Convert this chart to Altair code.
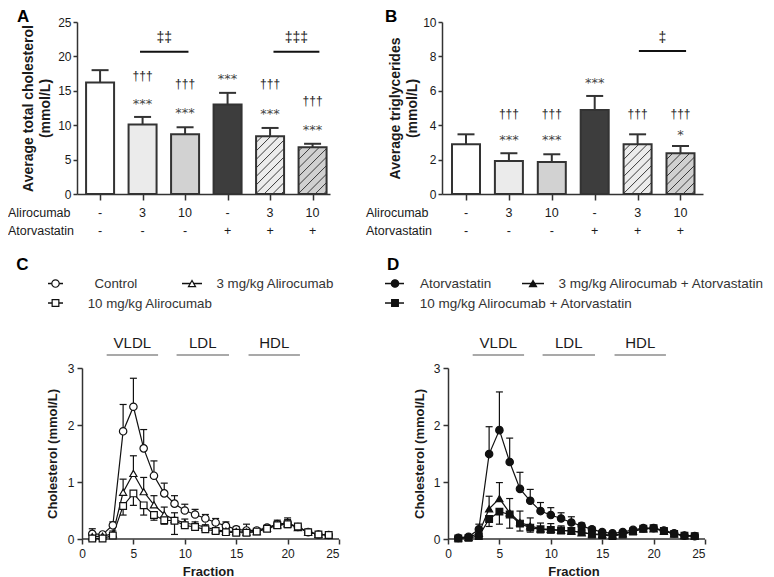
import altair as alt
import pandas as pd

# ---------------- data ----------------
groups = [1, 2, 3, 4, 5, 6]
alirocumab_dose = ["-", "3", "10", "-", "3", "10"]
atorvastatin_use = ["-", "-", "-", "+", "+", "+"]

tc_mean = [16.2, 10.1, 8.7, 13.0, 8.4, 6.8]
tc_sem = [1.8, 1.1, 1.0, 1.7, 1.2, 0.5]
tg_mean = [2.89, 1.92, 1.86, 4.88, 2.89, 2.37]
tg_sem = [0.58, 0.45, 0.45, 0.82, 0.58, 0.42]

tc_dagger = ["", "†††", "†††", "", "†††", "†††"]
tc_star = ["", "***", "***", "***", "***", "***"]
tg_dagger = ["", "†††", "†††", "", "†††", "†††"]
tg_star = ["", "***", "***", "***", "", "*"]

fractions = list(range(1, 25))
c_control = [0.09, 0.08, 0.24, 1.89, 2.32, 1.59, 1.11, 0.80, 0.62, 0.50, 0.43, 0.36,
             0.29, 0.23, 0.17, 0.15, 0.15, 0.20, 0.26, 0.28, 0.21, 0.12, 0.08, 0.07]
c_control_err = [0.09, 0.03, 0.06, 0.47, 0.50, 0.33, 0.26, 0.18, 0.14, 0.11, 0.09, 0.07,
                 0.07, 0.07, 0.05, 0.11, 0.03, 0.03, 0.07, 0.09, 0.04, 0.02, 0.02, 0.02]
c_ali3 = [0.04, 0.05, 0.09, 0.82, 1.15, 0.83, 0.60, 0.43, 0.34, 0.28, 0.25, 0.21,
          0.16, 0.14, 0.13, 0.12, 0.13, 0.19, 0.25, 0.27, 0.20, 0.12, 0.08, 0.07]
c_ali3_err = [0.03, 0.02, 0.05, 0.23, 0.31, 0.25, 0.16, 0.13, 0.12, 0.07, 0.05, 0.04,
              0.04, 0.04, 0.03, 0.03, 0.03, 0.04, 0.06, 0.07, 0.04, 0.02, 0.02, 0.02]
c_ali10 = [0.01, 0.01, 0.06, 0.58, 0.80, 0.59, 0.42, 0.33, 0.32, 0.24, 0.21, 0.17,
           0.14, 0.12, 0.11, 0.11, 0.13, 0.18, 0.24, 0.26, 0.22, 0.12, 0.08, 0.07]
c_ali10_err = [0.01, 0.01, 0.03, 0.16, 0.21, 0.17, 0.09, 0.07, 0.24, 0.05, 0.04, 0.03,
               0.03, 0.03, 0.03, 0.03, 0.03, 0.03, 0.05, 0.06, 0.04, 0.02, 0.02, 0.02]

d_ator = [0.02, 0.04, 0.17, 1.49, 1.91, 1.35, 0.88, 0.67, 0.49, 0.42, 0.36, 0.29,
          0.23, 0.17, 0.12, 0.10, 0.12, 0.16, 0.19, 0.19, 0.15, 0.10, 0.06, 0.05]
d_ator_err = [0.02, 0.02, 0.09, 0.48, 0.67, 0.42, 0.29, 0.20, 0.15, 0.13, 0.10, 0.10,
              0.05, 0.04, 0.03, 0.03, 0.03, 0.03, 0.04, 0.04, 0.03, 0.02, 0.02, 0.02]
d_ali3 = [0.02, 0.03, 0.10, 0.53, 0.71, 0.46, 0.29, 0.23, 0.18, 0.17, 0.15, 0.14,
          0.11, 0.09, 0.08, 0.07, 0.09, 0.14, 0.18, 0.18, 0.14, 0.09, 0.06, 0.05]
d_ali3_err = [0.01, 0.01, 0.08, 0.22, 0.28, 0.25, 0.20, 0.14, 0.10, 0.10, 0.08, 0.06,
              0.04, 0.03, 0.03, 0.03, 0.03, 0.03, 0.04, 0.04, 0.03, 0.02, 0.02, 0.02]
d_ali10 = [0.01, 0.02, 0.05, 0.35, 0.48, 0.43, 0.27, 0.20, 0.17, 0.16, 0.15, 0.14,
           0.12, 0.08, 0.07, 0.05, 0.08, 0.13, 0.18, 0.19, 0.14, 0.09, 0.06, 0.05]
d_ali10_err = [0.01, 0.01, 0.03, 0.13, 0.22, 0.24, 0.13, 0.08, 0.06, 0.05, 0.04, 0.03,
               0.03, 0.03, 0.02, 0.02, 0.03, 0.03, 0.04, 0.04, 0.03, 0.02, 0.02, 0.02]

lipo_names = ["VLDL", "LDL", "HDL"]
lipo_start = [2.4, 9.2, 16.2]
lipo_end = [7.4, 14.3, 21.2]

# ---------------- style / layout ----------------
FONT = "Liberation Sans"
SYM = "DejaVu Sans"
INK = "#333333"
TXT = "#1a1a1a"
bar_fill = ["#ffffff", "#ebebeb", "#d2d2d2", "#3d3d3d", "#ececec", "#d0d0d0"]
hatched = [False, False, False, False, True, True]
BAR_PX = 28
CAP_PX = 8.5
H_TOP = 172
H_BOT = 171


def ax(**kw):
    base = dict(grid=False, domainColor=INK, tickColor=INK, domainWidth=1.5, tickWidth=1.5,
                labelFont=FONT, labelFontSize=12, labelColor=TXT, titleFont=FONT,
                titleColor=TXT)
    base.update(kw)
    return alt.Axis(**base)


def text_layer(df, X, Y, **mk):
    base = dict(font=FONT, color=TXT)
    base.update(mk)
    return alt.Chart(df).mark_text(**base).encode(X, Y, text="t:N")


def bar_panel(mean, sem, xdom, width, ydom, yticks, ytitle, title_x, letter, letter_px,
              row_px, dagger, dagger_y, star, star_y, sigs):
    ppx = width / (xdom[1] - xdom[0])
    ppy = H_TOP / (ydom[1] - ydom[0])
    X = alt.X("x:Q", scale=alt.Scale(domain=xdom, nice=False, zero=False, padding=0),
              axis=ax(values=groups, labels=False, title=None, tickSize=6))
    Y = alt.Y("y:Q", scale=alt.Scale(domain=ydom, nice=False, zero=False, padding=0),
              axis=ax(values=yticks, title=ytitle, tickSize=4, labelPadding=2,
                      titleAngle=-90, titleX=title_x, titleY=H_TOP / 2, titleAlign="center",
                      titleBaseline="middle", titleFontSize=14, titleFontWeight="bold",
                      titleLineHeight=17))
    bars = pd.DataFrame({"x": groups, "y": mean, "fill": bar_fill})
    fill_layer = alt.Chart(bars).mark_bar(size=BAR_PX, orient="vertical").encode(
        X, Y, fill=alt.Fill("fill:N", scale=None))
    segs = []
    step = 8.5
    for g, m, h in zip(groups, mean, hatched):
        if not h:
            continue
        W = BAR_PX
        H = m * ppy
        left = g - W / 2 / ppx
        k = -W + 3.0
        while k < H:
            x0 = max(0.0, -k)
            x1 = min(W, H - k)
            if x1 > x0:
                segs.append({"x": left + x0 / ppx, "y": (x0 + k) / ppy,
                             "x2": left + x1 / ppx, "y2": (x1 + k) / ppy})
            k += step
    hatch = alt.Chart(pd.DataFrame(segs)).mark_rule(stroke="#3a3a3a", strokeWidth=1).encode(
        X, Y, x2="x2:Q", y2="y2:Q")
    outline = alt.Chart(bars).mark_bar(size=BAR_PX, orient="vertical", fillOpacity=0,
                                       stroke=INK, strokeWidth=2).encode(X, Y)
    errs = pd.DataFrame({"x": groups, "y": mean, "y2": [m + s for m, s in zip(mean, sem)]})
    err_line = alt.Chart(errs).mark_rule(stroke=INK, strokeWidth=2).encode(X, Y, y2="y2:Q")
    caps = pd.DataFrame({"x": [g - CAP_PX / ppx for g in groups],
                         "x2": [g + CAP_PX / ppx for g in groups],
                         "y": [m + s for m, s in zip(mean, sem)]})
    cap_line = alt.Chart(caps).mark_rule(stroke=INK, strokeWidth=2).encode(X, Y, x2="x2:Q")

    dag = pd.DataFrame([{"x": g, "y": yy, "t": t} for g, t, yy in zip(groups, dagger, dagger_y) if t])
    sta = pd.DataFrame([{"x": g, "y": yy, "t": t} for g, t, yy in zip(groups, star, star_y) if t])
    dag_l = text_layer(dag, X, Y, font=FONT, fontSize=12, baseline="middle", align="center")
    sta_l = text_layer(sta, X, Y, font=SYM, fontSize=13, baseline="middle", align="center",
                       color="#444444")
    sig_lines = pd.DataFrame([{"x": s[0], "x2": s[1], "y": s[2]} for s in sigs])
    sig_l = alt.Chart(sig_lines).mark_rule(stroke="#111111", strokeWidth=2).encode(X, Y, x2="x2:Q")
    sig_t = pd.DataFrame([{"x": (s[0] + s[1]) / 2, "y": s[3], "t": s[4]} for s in sigs])
    sig_tl = text_layer(sig_t, X, Y, fontSize=14, baseline="middle", align="center")

    lx = xdom[0] + letter_px / ppx
    let = text_layer(pd.DataFrame({"x": [lx], "y": [ydom[1]], "t": [letter]}), X, Y,
                     fontSize=17, fontWeight="bold", align="left", baseline="alphabetic",
                     color="#000000")
    rx = xdom[0] + row_px / ppx
    r1 = -19.4 / ppy
    r2 = -37.0 / ppy
    rows_names = pd.DataFrame({"x": [rx, rx], "y": [r1, r2], "t": ["Alirocumab", "Atorvastatin"]})
    names_l = text_layer(rows_names, X, Y, fontSize=12.5, align="left", baseline="middle")
    vals = pd.DataFrame({"x": groups + groups, "y": [r1] * 6 + [r2] * 6,
                         "t": alirocumab_dose + atorvastatin_use})
    vals_l = text_layer(vals, X, Y, fontSize=12.5, align="center", baseline="middle")

    return alt.layer(fill_layer, hatch, outline, err_line, cap_line, dag_l, sta_l, sig_l,
                     sig_tl, let, names_l, vals_l).properties(width=width, height=H_TOP)


def profile_panel(series, xdom, width, yaxis_offset, title_x, letter, letter_x, legend, leg_fs):
    ppx = width / (xdom[1] - xdom[0])
    X = alt.X("x:Q", scale=alt.Scale(domain=xdom, nice=False, zero=False, padding=0),
              axis=ax(values=[0, 5, 10, 15, 20, 25], domain=False, tickSize=5, labelPadding=4,
                      title="Fraction", titleFontSize=13, titleFontWeight="bold",
                      titleBaseline="alphabetic", titleY=36))
    Y = alt.Y("y:Q", scale=alt.Scale(domain=[0, 3], nice=False, zero=False, padding=0),
              axis=ax(values=[0, 1, 2, 3], offset=-yaxis_offset, tickSize=5, labelPadding=3,
                      title="Cholesterol (mmol/L)", titleAngle=-90, titleX=title_x,
                      titleY=H_BOT / 2, titleAlign="center", titleBaseline="middle",
                      titleFontSize=13, titleFontWeight="bold"))
    base_rule = alt.Chart(pd.DataFrame({"x": [0], "x2": [25], "y": [0]})).mark_rule(
        stroke=INK, strokeWidth=1.5).encode(X, Y, x2="x2:Q")

    lipo = pd.DataFrame({"x": lipo_start, "x2": lipo_end, "y": [3.228] * 3})
    lipo_l = alt.Chart(lipo).mark_rule(stroke="#555555", strokeWidth=1.2).encode(X, Y, x2="x2:Q")
    lipo_t = pd.DataFrame({"x": [(a + b) / 2 for a, b in zip(lipo_start, lipo_end)],
                           "y": [3.346] * 3, "t": lipo_names})
    lipo_tl = text_layer(lipo_t, X, Y, fontSize=15, align="center", baseline="alphabetic")

    err_rows, cap_rows, line_rows = [], [], []
    capw = 3.5 / ppx
    for s in series:
        for f, v, e in zip(fractions, s["values"], s["err"]):
            end = v + s["dir"] * e
            err_rows.append({"x": f, "y": v, "y2": end})
            cap_rows.append({"x": f - capw, "x2": f + capw, "y": end})
            line_rows.append({"x": f, "y": v, "series": s["name"]})
    err_l = alt.Chart(pd.DataFrame(err_rows)).mark_rule(stroke="#111111", strokeWidth=1.2).encode(
        X, Y, y2="y2:Q")
    cap_l = alt.Chart(pd.DataFrame(cap_rows)).mark_rule(stroke="#111111", strokeWidth=1.2).encode(
        X, Y, x2="x2:Q")
    line_l = alt.Chart(pd.DataFrame(line_rows)).mark_line(stroke="#111111", strokeWidth=1.2).encode(
        X, Y, detail="series:N")
    layers = [base_rule, lipo_l, lipo_tl, err_l, cap_l, line_l]
    for s in series:
        pts = pd.DataFrame({"x": fractions, "y": s["values"]})
        layers.append(alt.Chart(pts).mark_point(
            shape=s["shape"], filled=True, fill=s["fill"], stroke="#111111", strokeWidth=1.2,
            size=s["size"], opacity=1).encode(X, Y))
    leg_rule_rows, leg_text_rows = [], []
    for (s, e) in zip(series, legend):
        leg_rule_rows.append({"x": e["line"][0], "x2": e["line"][1], "y": e["ym"]})
        leg_text_rows.append({"x": e["tx"], "y": e["yt"], "t": s["name"]})
    layers.append(alt.Chart(pd.DataFrame(leg_rule_rows)).mark_rule(
        stroke="#111111", strokeWidth=1.5).encode(X, Y, x2="x2:Q"))
    for (s, e) in zip(series, legend):
        layers.append(alt.Chart(pd.DataFrame({"x": [e["mx"]], "y": [e["ym"]]})).mark_point(
            shape=s["shape"], filled=True, fill=s["fill"], stroke="#111111", strokeWidth=1.2,
            size=s["size"], opacity=1).encode(X, Y))
    layers.append(text_layer(pd.DataFrame(leg_text_rows), X, Y, fontSize=leg_fs, align="left",
                             baseline="alphabetic", color="#333333"))
    layers.append(text_layer(pd.DataFrame({"x": [letter_x], "y": [4.714], "t": [letter]}), X, Y,
                             fontSize=17, fontWeight="bold", align="left",
                             baseline="alphabetic", color="#000000"))
    return alt.layer(*layers).properties(width=width, height=H_BOT)


# ---------------- panels ----------------
A = bar_panel(tc_mean, tc_sem, [0.457, 6.41], 253, [0, 25], [0, 5, 10, 15, 20, 25],
              ["Average total cholesterol", "(mmol/L)"], -49, "A", -60, -69,
              tc_dagger, [None, 17.15, 16.0, None, 16.0, 13.5],
              tc_star, [None, 13.1, 11.8, 16.7, 11.66, 9.33],
              [(1.94, 3.08, 20.68, 22.72, "‡‡"), (5.08, 6.16, 20.68, 22.72, "‡‡‡")])

B = bar_panel(tg_mean, tg_sem, [0.4406, 6.5245], 261, [0, 10], [0, 2, 4, 6, 8, 10],
              ["Average triglycerides", "(mmol/L)"], -47, "B", -57, -76,
              tg_dagger, [None, 4.63, 4.63, None, 4.63, 4.63],
              tg_star, [None, 3.15, 3.15, 6.45, None, 3.44],
              [(5.03, 6.13, 8.31, 9.09, "‡")])

sC = [
    {"name": "Control", "values": c_control, "err": c_control_err, "dir": 1,
     "shape": "circle", "fill": "#ffffff", "size": 55},
    {"name": "3 mg/kg Alirocumab", "values": c_ali3, "err": c_ali3_err, "dir": 1,
     "shape": "triangle-up", "fill": "#ffffff", "size": 50},
    {"name": "10 mg/kg Alirocumab", "values": c_ali10, "err": c_ali10_err, "dir": -1,
     "shape": "square", "fill": "#ffffff", "size": 45},
]
legC = [
    {"line": (-3.307, -1.848), "mx": -2.578, "ym": 4.482, "tx": 1.206, "yt": 4.409},
    {"line": (9.728, 11.673), "mx": 10.70, "ym": 4.482, "tx": 13.084, "yt": 4.409},
    {"line": (-3.307, -1.848), "mx": -2.578, "ym": 4.140, "tx": 0.554, "yt": 4.058},
]
sD = [
    {"name": "Atorvastatin", "values": d_ator, "err": d_ator_err, "dir": 1,
     "shape": "circle", "fill": "#111111", "size": 55},
    {"name": "3 mg/kg Alirocumab + Atorvastatin", "values": d_ali3, "err": d_ali3_err, "dir": 1,
     "shape": "triangle-up", "fill": "#111111", "size": 50},
    {"name": "10 mg/kg Alirocumab + Atorvastatin", "values": d_ali10, "err": d_ali10_err,
     "dir": -1, "shape": "square", "fill": "#111111", "size": 45},
]
legD = [
    {"line": (-6.128, -4.280), "mx": -5.156, "ym": 4.482, "tx": -2.724, "yt": 4.409},
    {"line": (7.198, 9.339), "mx": 8.268, "ym": 4.482, "tx": 10.749, "yt": 4.409},
    {"line": (-6.128, -4.280), "mx": -5.156, "ym": 4.140, "tx": -2.753, "yt": 4.058},
]

C = profile_panel(sC, [-0.4864, 25], 262, 5, -30, "C", -6.40, legC, 13.3)
D = profile_panel(sD, [-0.5837, 25], 263, 6, -29, "D", -5.934, legD, 13.5)

chart = alt.concat(A, B, C, D, columns=2, bounds="flush", align="each",
                   spacing=alt.RowColnumber(row=174, column=103)).properties(
    padding=0).configure_view(strokeWidth=0)

chart.save("out.html", embed_options={"renderer": "svg", "actions": False})
